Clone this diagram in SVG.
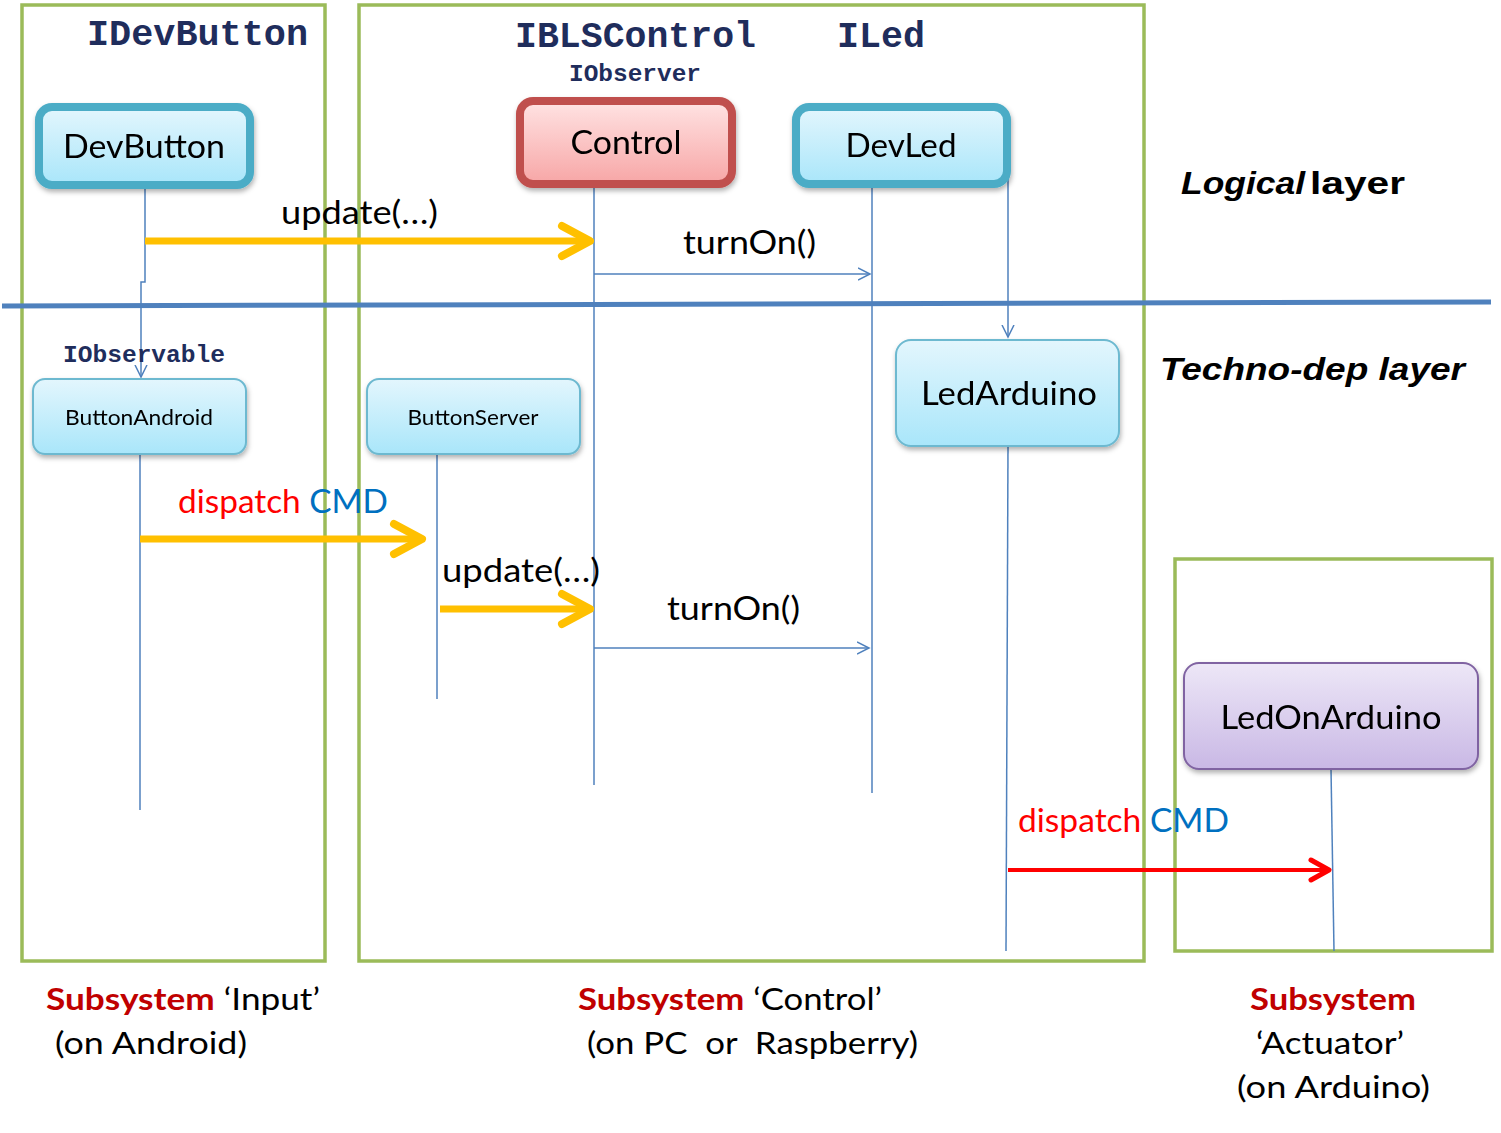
<svg xmlns="http://www.w3.org/2000/svg" width="1501" height="1133" viewBox="0 0 1501 1133">
<style>
.sub{fill:none;stroke:#9BBB59;stroke-width:3.5}
.iface{font-family:"Liberation Mono",monospace;font-weight:bold;fill:#1F2D5C}
.lbl{font-family:Lato,"Open Sans",sans-serif;fill:#000}
.life{fill:none;stroke:#4F81BD;stroke-width:1.5}
.yel{fill:none;stroke:#FFC000;stroke-width:7}
.yelh{fill:none;stroke:#FFC000;stroke-width:8;stroke-linecap:round;stroke-linejoin:round}
.red{fill:none;stroke:#FF0000;stroke-width:4}
.redh{fill:none;stroke:#FF0000;stroke-width:5;stroke-linecap:round;stroke-linejoin:round}
.thin{fill:none;stroke:#4F81BD;stroke-width:1.5}
.layer{font-family:"Liberation Sans",Arial,sans-serif;font-weight:bold;font-size:32px;fill:#000}
.subsys{font-family:Lato,"Open Sans",sans-serif;font-size:31px;fill:#000}
.dr{fill:#C00000;font-weight:bold}
</style>
<defs>
<linearGradient id="gBlue" x1="0" y1="0" x2="0" y2="1"><stop offset="0" stop-color="#E3F6FD"/><stop offset="1" stop-color="#A9E6FA"/></linearGradient>
<linearGradient id="gRed" x1="0" y1="0" x2="0" y2="1"><stop offset="0" stop-color="#FFE3E3"/><stop offset="1" stop-color="#F7A6A6"/></linearGradient>
<linearGradient id="gPurple" x1="0" y1="0" x2="0" y2="1"><stop offset="0" stop-color="#EDE7F7"/><stop offset="1" stop-color="#C9B8E5"/></linearGradient>
<filter id="sh" x="-10%" y="-10%" width="125%" height="140%"><feDropShadow dx="1" dy="3" stdDeviation="2.5" flood-color="#000" flood-opacity="0.3"/></filter>
<marker id="open" markerWidth="14" markerHeight="14" refX="12" refY="7" orient="auto" markerUnits="userSpaceOnUse"><path d="M0,1 L12,7 L0,13" fill="none" stroke="#4F81BD" stroke-width="1.5"/></marker>
</defs>
<rect width="1501" height="1133" fill="#fff"/>

<!-- subsystem frames -->
<rect class="sub" x="22" y="5" width="303" height="956"/>
<rect class="sub" x="359" y="5" width="785" height="956"/>
<rect class="sub" x="1175" y="559" width="317" height="392"/>

<!-- layer separator -->
<line x1="2" y1="306" x2="1491" y2="302" stroke="#4F81BD" stroke-width="5"/>

<!-- interface titles -->
<text class="iface" x="87" y="45" font-size="37" textLength="221" lengthAdjust="spacingAndGlyphs">IDevButton</text>
<text class="iface" x="515" y="47" font-size="37" textLength="241" lengthAdjust="spacingAndGlyphs">IBLSControl</text>
<text class="iface" x="837" y="47" font-size="37" textLength="88" lengthAdjust="spacingAndGlyphs">ILed</text>
<text class="iface" x="569" y="81" font-size="24.5" textLength="132" lengthAdjust="spacingAndGlyphs">IObserver</text>

<!-- connectors -->
<g id="connectors">
<path class="life" d="M145,188 V282 H141 V377" marker-end="url(#open)"/>
<line class="life" x1="140" y1="454" x2="140" y2="810"/>
<line class="life" x1="437" y1="454" x2="437" y2="699"/>
<line class="life" x1="594" y1="187" x2="594" y2="785"/>
<line class="life" x1="872" y1="187" x2="872" y2="793"/>
<line class="life" x1="1008" y1="143" x2="1008" y2="337" marker-end="url(#open)"/>
<line class="life" x1="1008" y1="446" x2="1006" y2="951"/>
<line class="life" x1="1331" y1="769" x2="1334" y2="951"/>

<line class="yel" x1="145" y1="241" x2="588" y2="241"/>
<path class="yelh" d="M562,226 L590,241 L562,256"/>
<line class="thin" x1="594" y1="274" x2="870" y2="274" marker-end="url(#open)"/>

<line class="yel" x1="140" y1="539" x2="420" y2="539"/>
<path class="yelh" d="M394,524 L422,539 L394,554"/>
<line class="yel" x1="440" y1="609" x2="588" y2="609"/>
<path class="yelh" d="M562,594 L590,609 L562,624"/>
<line class="thin" x1="594" y1="648" x2="869" y2="648" marker-end="url(#open)"/>

<line class="red" x1="1008" y1="870" x2="1327" y2="870"/>
<path class="redh" d="M1311,860 L1329,870 L1311,880"/>
</g>

<!-- message labels -->
<text class="lbl" x="281" y="224" font-size="32" textLength="157" lengthAdjust="spacingAndGlyphs">update(…)</text>
<text class="lbl" x="683" y="254" font-size="32" textLength="133" lengthAdjust="spacingAndGlyphs">turnOn()</text>
<text class="lbl" x="178" y="513" font-size="32" textLength="210" lengthAdjust="spacingAndGlyphs"><tspan fill="#FF0000">dispatch</tspan><tspan fill="#0070C0"> CMD</tspan></text>
<text class="lbl" x="442" y="582" font-size="32" textLength="158" lengthAdjust="spacingAndGlyphs">update(…)</text>
<text class="lbl" x="667" y="620" font-size="32" textLength="133" lengthAdjust="spacingAndGlyphs">turnOn()</text>
<text class="lbl" x="1018" y="832" font-size="32" textLength="211" lengthAdjust="spacingAndGlyphs"><tspan fill="#FF0000">dispatch</tspan><tspan fill="#0070C0"> CMD</tspan></text>

<text class="iface" x="63" y="362" font-size="24.5" textLength="162" lengthAdjust="spacingAndGlyphs">IObservable</text>

<!-- nodes -->
<g id="DevButton" filter="url(#sh)">
<rect x="39" y="107" width="211" height="78" rx="13" fill="url(#gBlue)" stroke="#4BACC6" stroke-width="8"/>
<text class="lbl" x="144" y="158" font-size="32" text-anchor="middle" textLength="162" lengthAdjust="spacingAndGlyphs">DevButton</text>
</g>
<g id="Control" filter="url(#sh)">
<rect x="520" y="101" width="212" height="83" rx="13" fill="url(#gRed)" stroke="#C0504D" stroke-width="8"/>
<text class="lbl" x="626" y="154" font-size="32" text-anchor="middle" textLength="111" lengthAdjust="spacingAndGlyphs">Control</text>
</g>
<g id="DevLed" filter="url(#sh)">
<rect x="796" y="107" width="211" height="77" rx="13" fill="url(#gBlue)" stroke="#4BACC6" stroke-width="8"/>
<text class="lbl" x="901" y="157" font-size="32" text-anchor="middle" textLength="111" lengthAdjust="spacingAndGlyphs">DevLed</text>
</g>
<g id="ButtonAndroid" filter="url(#sh)">
<rect x="33" y="379" width="213" height="75" rx="12" fill="url(#gBlue)" stroke="#6DB9D0" stroke-width="2"/>
<text class="lbl" x="139" y="425" font-size="21" text-anchor="middle" textLength="148" lengthAdjust="spacingAndGlyphs">ButtonAndroid</text>
</g>
<g id="ButtonServer" filter="url(#sh)">
<rect x="367" y="379" width="213" height="75" rx="12" fill="url(#gBlue)" stroke="#6DB9D0" stroke-width="2"/>
<text class="lbl" x="473" y="425" font-size="21" text-anchor="middle" textLength="131" lengthAdjust="spacingAndGlyphs">ButtonServer</text>
</g>
<g id="LedArduino" filter="url(#sh)">
<rect x="896" y="340" width="223" height="106" rx="15" fill="url(#gBlue)" stroke="#6DB9D0" stroke-width="2"/>
<text class="lbl" x="1009" y="405" font-size="32" text-anchor="middle" textLength="176" lengthAdjust="spacingAndGlyphs">LedArduino</text>
</g>
<g id="LedOnArduino" filter="url(#sh)">
<rect x="1184" y="663" width="294" height="106" rx="15" fill="url(#gPurple)" stroke="#8064A2" stroke-width="2"/>
<text class="lbl" x="1331" y="729" font-size="32" text-anchor="middle" textLength="221" lengthAdjust="spacingAndGlyphs">LedOnArduino</text>
</g>

<!-- layer labels -->
<text class="layer" x="1181" y="194" font-style="italic" textLength="124" lengthAdjust="spacingAndGlyphs">Logical</text>
<text class="layer" x="1310" y="194" textLength="95" lengthAdjust="spacingAndGlyphs">layer</text>
<text class="layer" x="1160" y="380" font-style="italic" textLength="305" lengthAdjust="spacingAndGlyphs">Techno-dep layer</text>

<!-- subsystem labels -->
<text class="subsys" x="46" y="1010" textLength="274" lengthAdjust="spacingAndGlyphs"><tspan class="dr">Subsystem</tspan> ‘Input’</text>
<text class="subsys" x="55" y="1054" textLength="192" lengthAdjust="spacingAndGlyphs">(on Android)</text>
<text class="subsys" x="578" y="1010" textLength="304" lengthAdjust="spacingAndGlyphs"><tspan class="dr">Subsystem</tspan> ‘Control’</text>
<text class="subsys" x="587" y="1054" xml:space="preserve" textLength="331" lengthAdjust="spacingAndGlyphs">(on PC  or  Raspberry)</text>
<text class="subsys" x="1250" y="1010" textLength="166" lengthAdjust="spacingAndGlyphs"><tspan class="dr">Subsystem</tspan></text>
<text class="subsys" x="1256" y="1054" textLength="148" lengthAdjust="spacingAndGlyphs">‘Actuator’</text>
<text class="subsys" x="1237" y="1098" textLength="193" lengthAdjust="spacingAndGlyphs">(on Arduino)</text>
</svg>
